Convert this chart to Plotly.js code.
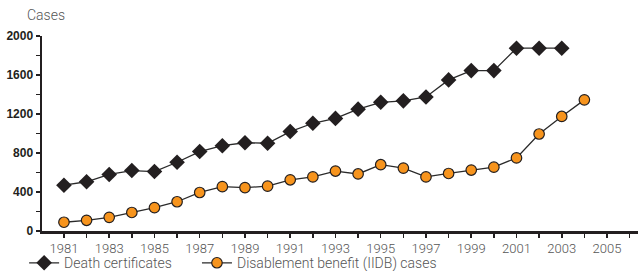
<!DOCTYPE html>
<html>
<head>
<meta charset="utf-8">
<script src="https://cdn.plot.ly/plotly-3.0.1.min.js"></script>
<style>html,body{margin:0;padding:0;background:#fff;}#chart{width:639px;height:271px;}</style>
</head>
<body>
<div id="chart"></div>
<script>
var years = [1981,1982,1983,1984,1985,1986,1987,1988,1989,1990,1991,1992,1993,1994,1995,1996,1997,1998,1999,2000,2001,2002,2003,2004];
var deathYears = years.slice(0, 23);
var deathCertificates = [470,505,580,620,610,705,815,875,905,900,1020,1105,1155,1250,1320,1335,1375,1550,1645,1645,1875,1875,1875];
var iidbCases = [90,110,140,190,240,300,395,455,445,460,525,555,615,585,680,645,555,590,625,655,750,995,1175,1345];
var seriesNames = ["Death certificates", "Disablement benefit (IIDB) cases"];
var yTitle = "Cases";

var lightFamily = "Roboto, 'Liberation Sans', sans-serif";
var lightFont = {family: lightFamily, size: 13, color: "#555", weight: 300};
var legendFont = {family: lightFamily, size: 14, color: "#555", weight: 300};

var traces = [
  {x: deathYears, y: deathCertificates, name: seriesNames[0], type: "scatter", mode: "lines+markers",
   legend: "legend",
   line: {color: "#2a2a2a", width: 1.3},
   marker: {symbol: "diamond", size: 12, color: "#231f20", line: {color: "#231f20", width: 0}}},
  {x: years, y: iidbCases, name: seriesNames[1], type: "scatter", mode: "lines+markers",
   legend: "legend2",
   line: {color: "#2a2a2a", width: 1.3},
   marker: {symbol: "circle", size: 10.5, color: "#f7941d", line: {color: "#231f20", width: 1.2}}}
];

var layout = {
  width: 639, height: 271,
  margin: {l: 42, r: 1, t: 36, b: 40, autoexpand: false},
  paper_bgcolor: "#fff", plot_bgcolor: "#fff",
  showlegend: true,
  legend: {orientation: "h", x: -0.03, xanchor: "left", y: -0.165, yanchor: "middle",
           font: legendFont, bgcolor: "rgba(0,0,0,0)"},
  legend2: {orientation: "h", x: 0.26, xanchor: "left", y: -0.165, yanchor: "middle",
           font: legendFont, bgcolor: "rgba(0,0,0,0)"},
  xaxis: {range: [1980.03, 2006.37], showgrid: false, zeroline: false,
          showline: true, linecolor: "#231f20", linewidth: 2.5,
          tickmode: "linear", tick0: 1981, dtick: 2, ticks: "outside", ticklen: 4, tickwidth: 1.5, tickcolor: "#231f20",
          minor: {tickmode: "linear", tick0: 1981, dtick: 1, ticks: "outside", ticklen: 4, tickwidth: 1.5, tickcolor: "#231f20", showgrid: false},
          tickfont: lightFont, fixedrange: true, automargin: false},
  yaxis: {range: [0, 2000], showgrid: false, zeroline: false,
          showline: true, linecolor: "#231f20", linewidth: 2.5,
          tickmode: "linear", tick0: 0, dtick: 400, ticks: "outside", ticklen: 4, tickwidth: 1.5, tickcolor: "#231f20",
          minor: {tickmode: "linear", tick0: 0, dtick: 200, ticks: "outside", ticklen: 4, tickwidth: 1.5, tickcolor: "#231f20", showgrid: false},
          tickfont: {family: "'Liberation Sans', Arial, sans-serif", size: 12, color: "#231f20", weight: 700},
          fixedrange: true, automargin: false},
  annotations: [{text: yTitle, xref: "paper", yref: "paper", x: -0.028, y: 1.055, xanchor: "left", yanchor: "bottom",
                 showarrow: false, font: {family: lightFamily, size: 14, color: "#555", weight: 300}}]
};

Plotly.newPlot("chart", traces, layout, {displayModeBar: false, staticPlot: true});
</script>
</body>
</html>
